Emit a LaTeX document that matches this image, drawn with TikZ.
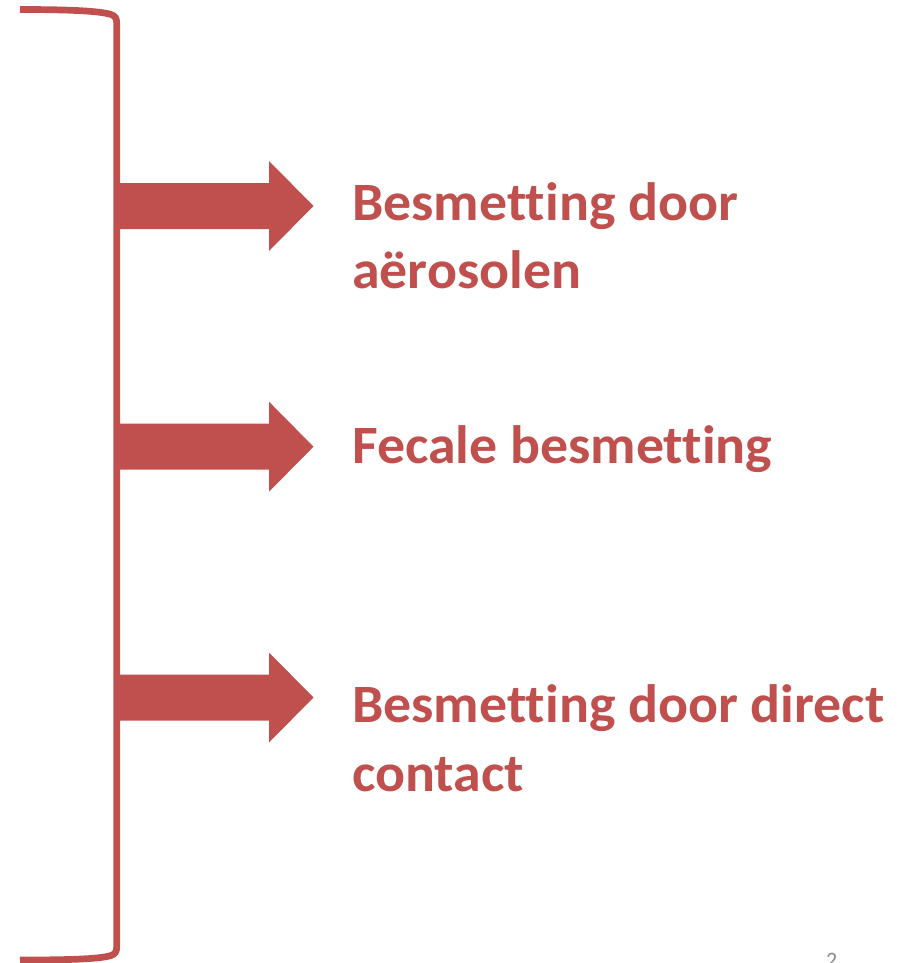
\documentclass[tikz,border=0pt]{standalone}
\usepackage{fontspec}
\setmainfont{Carlito}[Ligatures=CommonOff]
\newfontfamily\labelfont{Carlito}[Ligatures=CommonOff,FakeStretch=1.035]
\usetikzlibrary{calc}
\definecolor{accent}{HTML}{C0504D}
\definecolor{pagegray}{HTML}{8A8A8A}
\begin{document}
\begin{tikzpicture}[x=1pt,y=-1pt,
  bracketline/.style={draw=accent,line width=6.7pt,line join=round},
  blockarrow/.style={fill=accent},
  label/.style={anchor=base west,inner sep=0pt,text=accent,font=\labelfont\fontsize{54}{68}\selectfont\bfseries},
  pagenum/.style={anchor=base west,inner sep=0pt,text=pagegray,font=\fontsize{22}{26}\selectfont}]
\useasboundingbox (0,0) rectangle (910,963);
% bracket
\coordinate (bt) at (20,9.5);
\coordinate (bb) at (20,960);
\draw[bracketline] (bt) .. controls (70,9.5) and (100,11) .. (111,14.5)
  .. controls (115,16) and (116.7,18) .. (116.7,23) -- (116.7,947)
  .. controls (116.7,952) and (115,954) .. (111,955.5)
  .. controls (100,959) and (70,960) .. (bb);
% arrows
\foreach \c/\n in {206/a1,446.7/a2,697.5/a3}{
  \coordinate (\n s) at (116.7,\c);
  \coordinate (\n t) at (313.5,\c);
  \fill[blockarrow] ($(\n s)+(0,-23)$) -- ++(152.3,0) -- ++(0,-22) -- (\n t)
     -- ($(\n s)+(152.3,45)$) -- ++(0,-22) -- ($(\n s)+(0,23)$) -- cycle;
}
% labels
\node[label] (l1a) at (352,220) {Besmetting door};
\node[label] (l1b) at (352,288.5) {aërosolen};
\node[label] (l2) at (352,463.3) {Fecale besmetting};
\node[label] (l3a) at (352,722.7) {Besmetting door direct};
\node[label] (l3b) at (352,791.7) {contact};
\node[pagenum] (pn) at (826,967) {2};
\end{tikzpicture}
\end{document}
